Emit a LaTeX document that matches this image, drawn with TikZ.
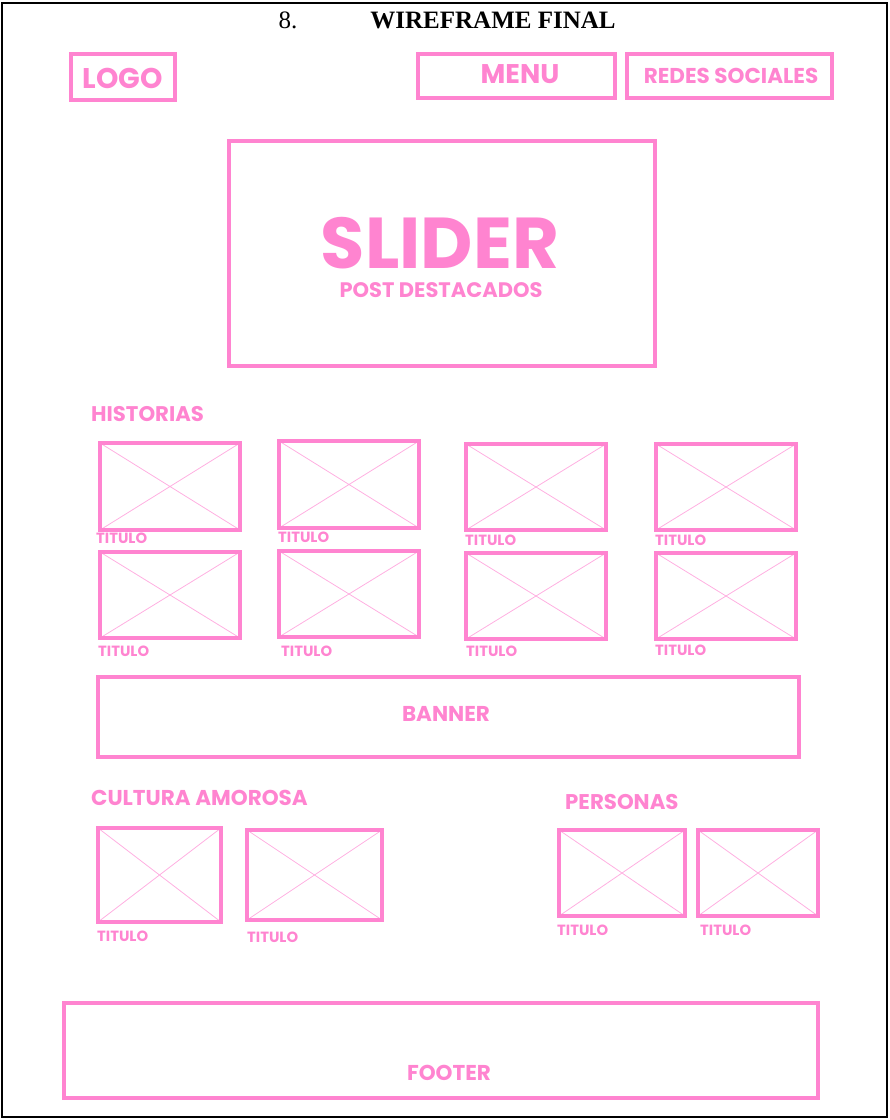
\documentclass[tikz,border=0pt]{standalone}
\usepackage{fontspec}
\setmainfont{Liberation Serif}
\newfontfamily\rotulo{Poppins}
\definecolor{rosa}{RGB}{255,132,208}
\definecolor{rosaclaro}{RGB}{255,175,225}
\newcommand{\tam}[1]{\fontsize{#1}{#1}\selectfont}
\begin{document}
\begin{tikzpicture}[x=1pt, y=-1pt, line join=miter,
    caja/.style={draw=rosa, line width=3.5pt},
    cruz/.style={draw=rosaclaro, line width=0.8pt},
    rotxt/.style={text=rosa, font=\rotulo\bfseries, inner sep=0pt}]
  \useasboundingbox (0,0) rectangle (890,1120);
  % el marco de la hoja y el titulo
  \draw[line width=2.5pt] (2,3) rectangle (887,1117);
  \node[font=\tam{25}, inner sep=0pt] (num) at (288,20) {8.};
  \node[font=\tam{25}\bfseries, inner sep=0pt] (titulo) at (493,20) {WIREFRAME FINAL};
  % la cabecera
  \draw[caja] (71,54) rectangle (175,100);
  \node[rotxt, font=\rotulo\bfseries\tam{28.5}] (logo) at (123,78) {LOGO};
  \draw[caja] (418,54) rectangle (615,98);
  \node[rotxt, font=\rotulo\bfseries\tam{27}] (menu) at (520,74) {MENU};
  \draw[caja] (627,54) rectangle (832,98);
  \node[rotxt, font=\rotulo\bfseries\tam{21.5}] (redes) at (731,76) {REDES SOCIALES};
  % el slider
  \draw[caja] (229,141) rectangle (655,366);
  \node[rotxt, font=\rotulo\bfseries\tam{72}] (slider) at (440,243) {SLIDER};
  \node[rotxt, font=\rotulo\bfseries\tam{21}] (post) at (441,290) {POST DESTACADOS};
  % historias, dos filas de cuatro
  \node[rotxt, font=\rotulo\bfseries\tam{21.2}, anchor=west] (historias) at (91,414) {HISTORIAS};
  \foreach \x/\y/\w/\h/\tx/\ty [count=\i] in {100/443/140/87/96/538, 279/441/140/87/278/537,
      466/444/140/86/465/540, 656/444/140/86/655/540, 100/552/140/86/98/651,
      279/551/140/86/281/651, 466/553/140/86/466/651, 656/553/140/86/655/650,
      98/828/123/94/97/936, 247/830/135/90/247/937, 559/830/126/86/557/930,
      698/830/120/86/700/930} {
    \draw[cruz] (\x,\y) -- ++(\w,\h) (\x+\w,\y) -- ++(-\w,\h);
    \draw[caja] (\x,\y) rectangle ++(\w,\h);
    \node[rotxt, font=\rotulo\bfseries\tam{14.8}, anchor=west] (tit\i) at (\tx,\ty) {TITULO};
  }
  % el banner
  \draw[caja] (98,677) rectangle (799,757);
  \node[rotxt, font=\rotulo\bfseries\tam{21.5}] (banner) at (446,714) {BANNER};
  % cultura amorosa y personas
  \node[rotxt, font=\rotulo\bfseries\tam{21.5}, anchor=west] (cultura) at (91,798) {CULTURA AMOROSA};
  \node[rotxt, font=\rotulo\bfseries\tam{21.3}, anchor=west] (personas) at (565,802) {PERSONAS};
  % el pie
  \draw[caja] (64,1003) rectangle (818,1098);
  \node[rotxt, font=\rotulo\bfseries\tam{21.5}] (footer) at (449,1073) {FOOTER};
\end{tikzpicture}
\end{document}
